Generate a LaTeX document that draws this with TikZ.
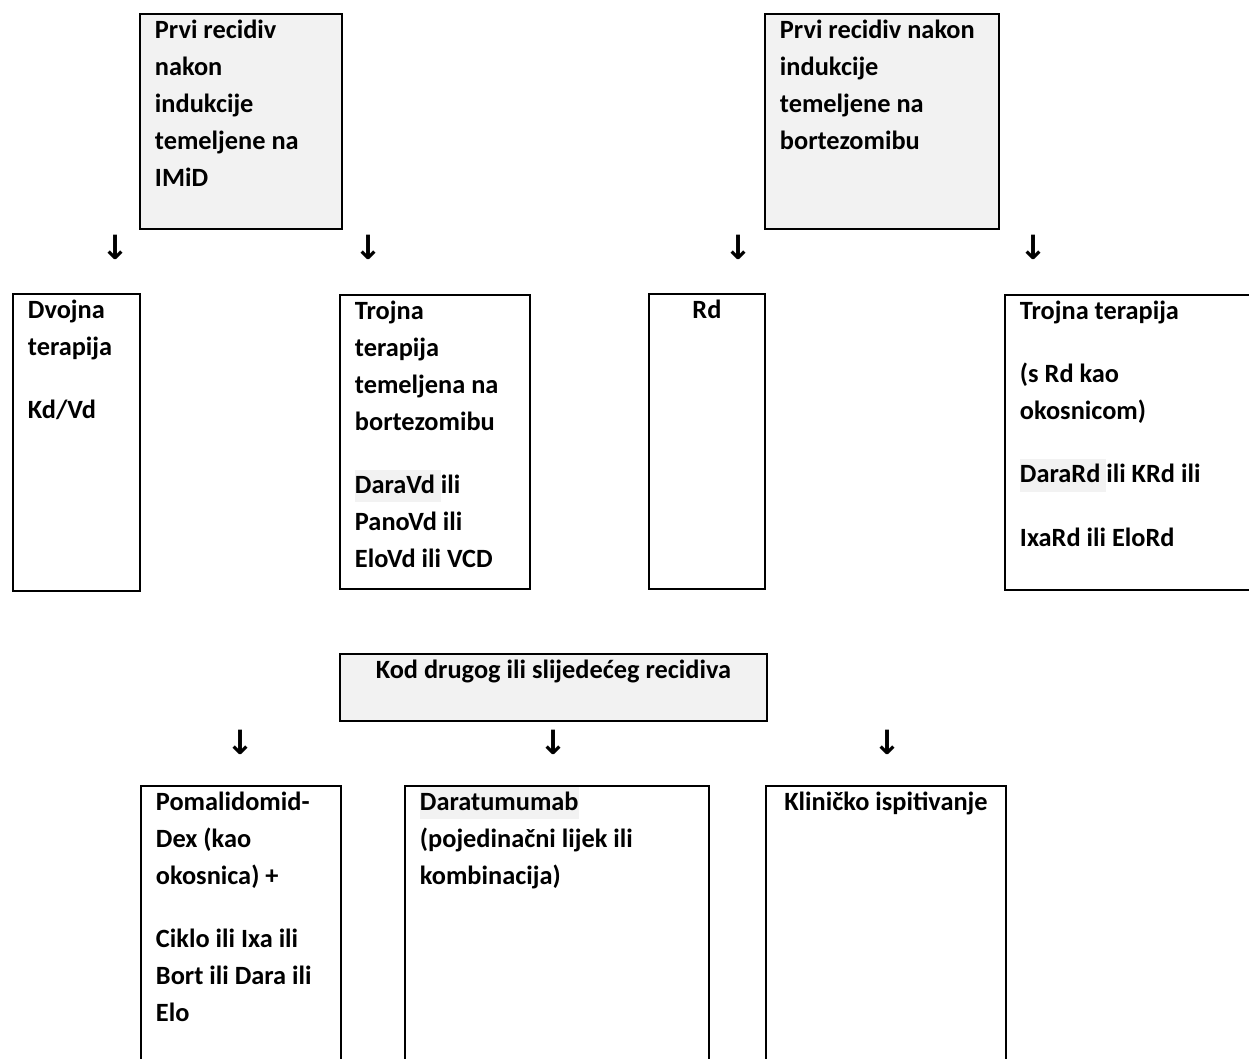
\documentclass[tikz,border=0pt]{standalone}
\usepackage{fontspec}
\usepackage{xcolor}
\usepackage{tikz}
\setmainfont{Carlito}
\newfontfamily\arrowfont{DejaVu Sans}
\definecolor{boxgray}{HTML}{F2F2F2}
\newlength{\pxu}
\setlength{\pxu}{0.02cm}
\newcommand{\cell}[4][\raggedright]{\begin{minipage}[t][#3\pxu][t]{\dimexpr#2\pxu-30\pxu\relax}#1\rule{0pt}{14pt}#4\end{minipage}}
\newcommand{\hl}[1]{{\setlength{\fboxsep}{0pt}\colorbox{boxgray}{\rule[-5pt]{0pt}{18.5pt}#1}}}
\tikzset{box/.style={draw, line width=1.1pt, anchor=north west, inner xsep=15\pxu, inner ysep=0pt, font=\fontsize{15pt}{21pt}\selectfont\bfseries}}

\begin{document}
\begin{tikzpicture}[x=0.02cm,y=-0.02cm]
\useasboundingbox (0,0) rectangle (1249,1059);
\node[box,fill=boxgray] (imid) at (139,13) {\cell{202}{215}{Prvi recidiv\\nakon\\indukcije\\temeljene na\\IMiD}};
\node[box,fill=boxgray] (bort) at (764,13) {\cell{234}{215}{Prvi recidiv nakon\\indukcije\\temeljene na\\bortezomibu}};
\node[box] (dvojna) at (12,293) {\cell{127}{297}{Dvojna\\terapija\\[15pt]Kd/Vd}};
\node[box] (trojnaV) at (339,294) {\cell{190}{294}{Trojna\\terapija\\temeljena na\\bortezomibu\\[15pt]\hl{DaraVd\ }ili\\PanoVd ili\\EloVd ili VCD}};
\node[box] (rd) at (648,293) {\cell[\centering]{116}{295}{Rd}};
\node[box] (trojnaR) at (1004,294) {\cell{266}{295}{Trojna terapija\\[15pt](s Rd kao\\okosnicom)\\[15pt]\hl{DaraRd\ }ili KRd ili\\[15pt]IxaRd ili EloRd}};
\node[box,fill=boxgray] (drugi) at (339,653) {\cell[\centering]{427}{67}{Kod drugog ili slijedećeg recidiva}};
\node[box] (poma) at (140,785) {\cell{200}{300}{Pomalidomid-\\Dex (kao\\okosnica) +\\[15pt]Ciklo ili Ixa ili\\Bort ili Dara ili\\Elo}};
\node[box] (dara) at (404,785) {\cell{304}{300}{\hl{Daratumumab}\\(pojedinačni lijek ili\\kombinacija)}};
\node[box] (klin) at (765,785) {\cell[\centering]{240}{300}{Kliničko ispitivanje}};
\foreach \x/\y [count=\i] in {115/247,368/247,738/247,1033/247,240/742,553/742,887/742}
\node[font=\arrowfont\bfseries\fontsize{19pt}{19pt}\selectfont] (arr\i) at (\x,\y) {↓};
\end{tikzpicture}
\end{document}
